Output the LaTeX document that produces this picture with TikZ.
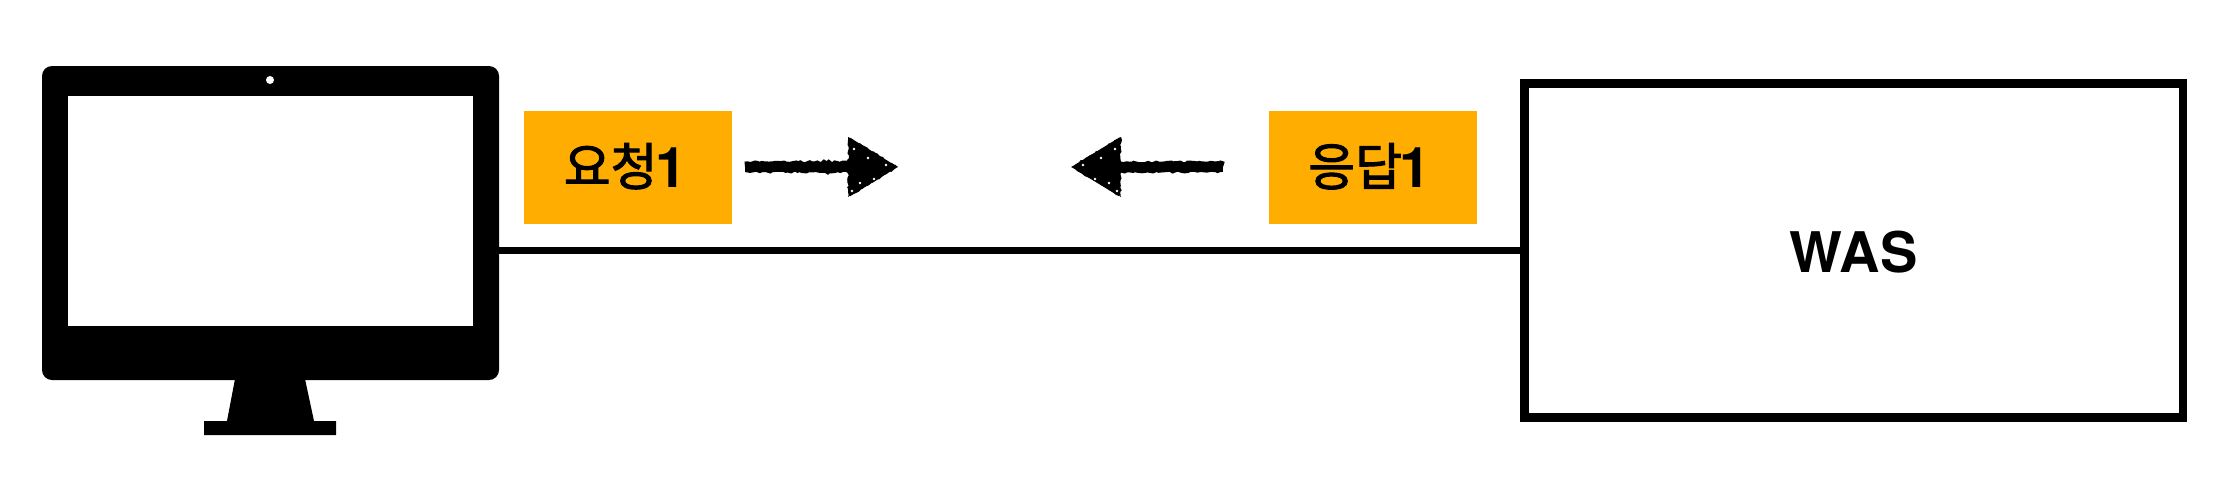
\documentclass[tikz,border=0pt]{standalone}
\usepackage{fontspec}
\setmainfont{TeX Gyre Heros}
\newfontfamily\krfont[FakeBold=2]{Noto Sans CJK KR}
\usepackage{xcolor}
\usetikzlibrary{calc,arrows.meta,decorations.pathmorphing}
\definecolor{label_orange}{HTML}{FFAD00}
\tikzset{
	label_box/.style = {fill=label_orange, inner sep=0pt, minimum width=104pt, minimum height=56.5pt, text height=24pt, text depth=4.5pt, font=\fontsize{28}{30}\selectfont\bfseries},
	chalk/.style = {decorate, decoration={random steps, segment length=1.2pt, amplitude=0.5pt}},
	flow_line/.style = {line width=4.6pt, -{Triangle[length=24pt, width=28pt]}},
	speck/.style = {fill=white, inner sep=0pt, minimum size=1.3pt, circle}
}
\newcommand{\krtext}[1]{\raisebox{0.8pt}{\mdseries\fontsize{25.5}{30}\selectfont\krfont #1}\kern-1.2pt}

\begin{document}
\begin{tikzpicture}[x=0.5pt, y=-0.5pt]
	\useasboundingbox (0, 0) rectangle (2214, 498);
	\pgfmathsetseed{7}
	% computer
	\node[fill=black, inner sep=0pt, outer sep=0pt, rounded corners=5pt, minimum width=228.5pt, minimum height=157pt] (monitor) at (270.5, 223) {};
	\node[fill=white, inner sep=0pt, minimum width=202.5pt, minimum height=115pt] (screen) at (270.5, 211) {};
	\node[fill=white, circle, inner sep=0pt, minimum size=4pt] (camera) at (270, 80) {};
	\fill (235, 379) -- (305, 379) -- (314, 421) -- (336, 421) -- (336, 435) -- (204, 435) -- (204, 421) -- (227, 421) -- cycle;
	% server
	\node[draw, line width=4.3pt, inner sep=0pt, minimum width=329.25pt, minimum height=167pt, text height=24pt, text depth=2.2pt, font=\fontsize{28}{30}\selectfont\bfseries] (was) at (1853.75, 250.5) {WAS};
	\draw[line width=3.5pt] (monitor.east |- was.west) -- (was.west);
	% labels
	\node[label_box] (request) at (628, 167.5) {\krtext{요청}1\kern3pt};
	\node[label_box] (response) at (1372.5, 167.5) {\krtext{응답}1\kern3pt};
	% arrows
	\coordinate (req_tail) at (745, 167);
	\coordinate (req_tip) at (898, 167);
	\coordinate (res_tail) at (1223, 167);
	\coordinate (res_tip) at (1071, 167);
	\draw[flow_line] (req_tail) -- (req_tip);
	\draw[flow_line] (res_tail) -- (res_tip);
	% rough edges of the arrows
	\draw[chalk, line width=5.4pt] (req_tail) -- ($(req_tip) + (-48, 0)$);
	\draw[chalk, line width=5.4pt] (res_tail) -- ($(res_tip) + (48, 0)$);
	\fill[chalk] ($(req_tip) + (-50, -30)$) -- (req_tip) -- ($(req_tip) + (-50, 30)$) -- cycle;
	\fill[chalk] ($(res_tip) + (50, -30)$) -- (res_tip) -- ($(res_tip) + (50, 30)$) -- cycle;
	\foreach \dx/\dy in {-44/-18, -30/-9, -12/-2, -38/16, -24/12, -46/24} {
		\node[speck] at ($(req_tip) + (\dx, \dy)$) {};
		\node[speck] at ($(res_tip) + (-\dx, \dy)$) {};
	}
\end{tikzpicture}
\end{document}
